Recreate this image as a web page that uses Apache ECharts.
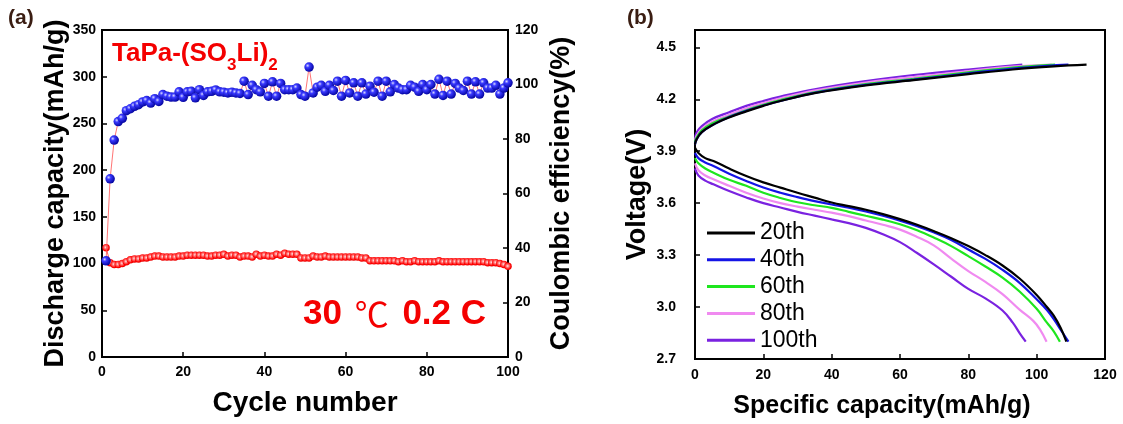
<!DOCTYPE html>
<html>
<head>
<meta charset="utf-8">
<script src="https://cdn.jsdelivr.net/npm/echarts@6/dist/echarts.min.js"></script>
<style>
html,body{margin:0;padding:0;background:#fff;}
#chart{width:1123px;height:424px;}
</style>
</head>
<body>
<div id="chart"></div>
<script>
// ---------- Panel (a) data ----------
const cycles = Array.from({length: 100}, (_, i) => i + 1);
const dischargeCapacity = [
117,101,99,99,100,102,104,105,105,106,
106,107,108,108,107,107,107,107,108,108,
109,109,109,109,109,108,108,109,109,110,
108,109,109,107,108,108,107,110,108,109,
108,108,110,109,111,110,110,110,106,106,
106,108,107,107,108,107,107,107,107,107,
107,107,107,106,106,103,103,103,103,103,
103,103,102,103,102,102,103,102,102,102,
102,102,103,102,102,102,102,102,102,102,
102,102,102,102,101,101,101,100,99,97
];
const coulombicEfficiency = [
35.3,65.4,79.6,86.4,87.6,90.4,91.1,92.0,92.6,93.6,
94.1,93.2,94.8,93.8,96.3,95.7,95.4,95.4,97.3,95.3,
97.3,97.5,95.1,98.1,96.0,97.3,97.5,98.0,97.3,97.2,
96.9,97.2,96.9,96.7,101.2,96.3,99.7,98.1,97.3,100.4,
95.7,101.0,95.7,100.4,98.1,98.1,98.1,98.7,96.3,95.7,
106.4,96.9,99.0,99.7,97.5,99.7,97.8,101.2,95.7,101.5,
96.9,100.6,95.7,100.6,96.5,99.4,97.2,101.2,95.7,101.2,
97.3,100.0,98.7,98.1,98.1,99.7,99.0,97.5,100.0,98.1,
100.0,96.5,101.9,96.0,101.2,96.5,100.4,98.7,97.8,101.2,
96.5,101.0,96.5,100.6,98.7,98.7,99.7,96.5,98.7,100.6
];
const cycleTicks = [0, 20, 40, 60, 80, 100];
const capacityTicks = [0, 50, 100, 150, 200, 250, 300, 350];
const efficiencyTicks = [0, 20, 40, 60, 80, 100, 120];

// ---------- Panel (b) data ----------
const cycleNames = ['20th', '40th', '60th', '80th', '100th'];
const cycleColors = ['#000000', '#1414e6', '#1ee61e', '#f08af0', '#7a22e0'];
const charge20 = [[0,3.94],[0.5,3.97],[2,4.01],[5,4.05],[10,4.095],[15,4.13],[20,4.162],[25,4.19],[35,4.235],[50,4.28],[64,4.31],[80,4.345],[93,4.372],[105,4.39],[114.6,4.40]];
const charge40 = [[0,3.94],[0.5,3.97],[2,4.01],[5,4.05],[10,4.097],[15,4.133],[20,4.164],[25,4.19],[35,4.237],[50,4.283],[64,4.313],[80,4.35],[93,4.377],[103,4.393],[109.3,4.40]];
const charge60 = [[0,3.95],[0.5,3.98],[2,4.02],[5,4.06],[10,4.10],[15,4.137],[20,4.168],[25,4.195],[35,4.24],[50,4.287],[64,4.318],[80,4.355],[93,4.383],[105.4,4.40]];
const charge80 = [[0,3.96],[0.5,3.99],[2,4.03],[5,4.07],[10,4.11],[15,4.148],[20,4.178],[25,4.205],[35,4.25],[50,4.297],[64,4.328],[80,4.363],[93,4.388],[104.4,4.40]];
const charge100 = [[0,3.97],[0.5,4.01],[2,4.045],[5,4.086],[10,4.125],[15,4.162],[20,4.19],[25,4.215],[35,4.258],[50,4.305],[64,4.34],[80,4.372],[95.8,4.40]];
const discharge20 = [[0,3.92],[1,3.89],[3,3.86],[5.4,3.843],[10,3.80],[15,3.757],[20,3.72],[25,3.69],[30,3.66],[35,3.632],[40,3.604],[45,3.583],[50,3.562],[55,3.537],[60,3.508],[65,3.475],[70,3.438],[75,3.398],[80,3.352],[85,3.30],[90,3.24],[95,3.165],[100,3.07],[103,3.0],[105,2.95],[107,2.88],[108.7,2.80]];
const discharge40 = [[0,3.89],[1,3.86],[3,3.835],[5.4,3.814],[10,3.77],[15,3.728],[20,3.69],[25,3.66],[30,3.635],[35,3.612],[40,3.592],[45,3.574],[50,3.552],[55,3.527],[60,3.499],[65,3.467],[70,3.43],[75,3.387],[80,3.332],[85,3.278],[90,3.215],[95,3.14],[100,3.045],[103,2.983],[105,2.93],[107,2.87],[109.3,2.80]];
const discharge60 = [[0,3.86],[1,3.83],[3,3.80],[5.4,3.776],[10,3.735],[15,3.70],[20,3.66],[25,3.63],[30,3.605],[35,3.588],[40,3.573],[45,3.55],[50,3.527],[55,3.505],[60,3.478],[65,3.443],[70,3.40],[75,3.352],[80,3.294],[85,3.234],[90,3.17],[95,3.09],[100,2.99],[103,2.91],[105,2.86],[106.8,2.80]];
const discharge80 = [[0,3.83],[1,3.79],[3,3.76],[5.4,3.738],[10,3.70],[15,3.66],[20,3.627],[25,3.60],[30,3.58],[35,3.562],[40,3.545],[45,3.525],[50,3.50],[55,3.475],[60,3.447],[65,3.405],[70,3.355],[75,3.28],[80,3.208],[85,3.145],[90,3.075],[95,2.985],[99,2.92],[101,2.87],[102.9,2.80]];
const discharge100 = [[0,3.80],[1,3.76],[3,3.73],[5.4,3.709],[10,3.67],[15,3.633],[20,3.60],[25,3.575],[30,3.55],[35,3.528],[40,3.506],[45,3.485],[50,3.457],[55,3.42],[60,3.375],[65,3.312],[70,3.245],[75,3.175],[80,3.105],[85,3.05],[90,2.98],[93,2.91],[95,2.85],[96.8,2.80]];
const chargeCurves = [charge20, charge40, charge60, charge80, charge100];
const dischargeCurves = [discharge20, discharge40, discharge60, discharge80, discharge100];
const capacityTicksB = [0, 20, 40, 60, 80, 100, 120];
const voltageTicks = [2.7, 3.0, 3.3, 3.6, 3.9, 4.2, 4.5];

// ---------- Build chart ----------
const FONT = "'Liberation Sans', Arial, Helvetica, sans-serif";
const chart = echarts.init(document.getElementById('chart'), null, {renderer: 'canvas'});

const axisCommon = {
  axisLine: {show: true, onZero: false, lineStyle: {color: '#000', width: 2}},
  axisTick: {show: true, inside: true, length: 5, lineStyle: {color: '#000', width: 1.5}},
  splitLine: {show: false},
  axisLabel: {color: '#000', fontFamily: FONT, fontWeight: 'bold', fontSize: 14},
  nameTextStyle: {color: '#000', fontFamily: FONT, fontWeight: 'bold', fontSize: 27},
  nameLocation: 'middle'
};
function ax(extra) {
  const o = JSON.parse(JSON.stringify(axisCommon));
  for (const k in extra) {
    if (typeof extra[k] === 'object' && !Array.isArray(extra[k]) && o[k]) Object.assign(o[k], extra[k]);
    else o[k] = extra[k];
  }
  return o;
}

const blueBall = new echarts.graphic.RadialGradient(0.35, 0.35, 0.7, [
  {offset: 0, color: '#d8d8ff'}, {offset: 0.3, color: '#3a3aff'}, {offset: 1, color: '#00009a'}
]);
const redBall = new echarts.graphic.RadialGradient(0.45, 0.45, 0.6, [
  {offset: 0, color: '#ffe4e4'}, {offset: 0.35, color: '#ff7070'}, {offset: 0.75, color: '#ff0000'}, {offset: 1, color: '#dd0000'}
]);

const series = [
  {
    type: 'line', xAxisIndex: 0, yAxisIndex: 0, name: 'Discharge capacity',
    data: cycles.map((c, i) => [c, dischargeCapacity[i]]),
    symbol: 'circle', symbolSize: 7.5,
    lineStyle: {color: '#ff3030', width: 0.8},
    itemStyle: {color: redBall, borderWidth: 0},
    z: 3
  },
  {
    type: 'line', xAxisIndex: 0, yAxisIndex: 1, name: 'Coulombic efficiency',
    data: cycles.map((c, i) => [c, coulombicEfficiency[i]]),
    symbol: 'circle', symbolSize: 9.5,
    lineStyle: {color: '#ff5050', width: 0.8},
    itemStyle: {color: blueBall, borderWidth: 0},
    z: 4
  }
];
cycleNames.forEach((nm, i) => {
  series.push({
    type: 'line', xAxisIndex: 1, yAxisIndex: 2, name: nm,
    data: dischargeCurves[i], symbol: 'none', smooth: 0.4,
    lineStyle: {color: cycleColors[i], width: 2.2}, itemStyle: {color: cycleColors[i]},
    z: 10 - i
  });
  series.push({
    type: 'line', xAxisIndex: 1, yAxisIndex: 2, name: nm,
    data: chargeCurves[i], symbol: 'none', smooth: 0.4,
    lineStyle: {color: cycleColors[i], width: 2.2}, itemStyle: {color: cycleColors[i]},
    z: 10 - i
  });
});

const option = {
  animation: false,
  backgroundColor: '#fff',
  grid: [
    {left: 102, right: 615, top: 30, bottom: 67, show: true, borderColor: '#000', borderWidth: 2, backgroundColor: 'transparent'},
    {left: 695, right: 18, top: 30, bottom: 64, show: true, borderColor: '#000', borderWidth: 2, backgroundColor: 'transparent'}
  ],
  xAxis: [
    ax({gridIndex: 0, type: 'value', min: cycleTicks[0], max: cycleTicks[cycleTicks.length - 1], interval: cycleTicks[1] - cycleTicks[0],
        name: 'Cycle number', nameGap: 32, nameTextStyle: {fontSize: 28}, axisLabel: {margin: 8}}),
    ax({gridIndex: 1, type: 'value', min: capacityTicksB[0], max: capacityTicksB[capacityTicksB.length - 1], interval: capacityTicksB[1] - capacityTicksB[0],
        name: 'Specific capacity(mAh/g)', nameGap: 35, nameTextStyle: {fontSize: 25, padding: [0, 36, 0, 0]}, axisLabel: {margin: 9}})
  ],
  yAxis: [
    ax({gridIndex: 0, type: 'value', position: 'left', min: capacityTicks[0], max: capacityTicks[capacityTicks.length - 1], interval: capacityTicks[1] - capacityTicks[0],
        name: 'Discharge capacity(mAh/g)', nameGap: 32, axisLabel: {margin: 6}}),
    ax({gridIndex: 0, type: 'value', position: 'right', min: efficiencyTicks[0], max: efficiencyTicks[efficiencyTicks.length - 1], interval: efficiencyTicks[1] - efficiencyTicks[0],
        name: 'Coulombic efficiency(%)', nameGap: 40, axisLabel: {margin: 7}}),
    ax({gridIndex: 1, type: 'value', min: voltageTicks[0], max: 4.6, interval: 0.3,
        name: 'Voltage(V)', nameGap: 44, axisLabel: {margin: 19, showMaxLabel: false, formatter: v => v.toFixed(1)}})
  ],
  legend: {
    data: cycleNames,
    orient: 'vertical', left: 702, top: 216,
    itemWidth: 48, itemHeight: 10, itemGap: 2.8,
    icon: 'path://M0,0 L48,0 L48,3 L0,3 Z',
    textStyle: {fontFamily: FONT, fontSize: 23, color: '#000', lineHeight: 24}
  },
  graphic: [
    {type: 'text', left: 8, top: 8, style: {text: '(a)', font: "bold 21px 'Liberation Sans', Arial, sans-serif", fill: '#3a1d12'}},
    {type: 'text', left: 627, top: 8, style: {text: '(b)', font: "bold 21px 'Liberation Sans', Arial, sans-serif", fill: '#3a1d12'}},
    {type: 'text', left: 112, top: 33, z: 20, style: {
      text: '{m|TaPa-(SO}{s|3}{m|Li)}{s|2}',
      rich: {
        m: {fontFamily: FONT, fontWeight: 'bold', fontSize: 26, fill: '#f40000', lineHeight: 30},
        s: {fontFamily: FONT, fontWeight: 'bold', fontSize: 17, fill: '#f40000', lineHeight: 17, padding: [24, 0, 0, 0]}
      }
    }},
    {type: 'text', left: 303, top: 297, z: 20, style: {
      text: '{b|30 }{c|℃}{b| 0.2 C}',
      rich: {
        b: {fontFamily: FONT, fontWeight: 'bold', fontSize: 35, fill: '#f40000', lineHeight: 40},
        c: {fontFamily: "'Noto Sans CJK SC', 'DejaVu Sans', sans-serif", fontWeight: 'normal', fontSize: 34, fill: '#f40000', lineHeight: 40, padding: [0, 4, 0, 3]}
      }
    }}
  ],
  series: series
};
chart.setOption(option);
</script>
</body>
</html>
